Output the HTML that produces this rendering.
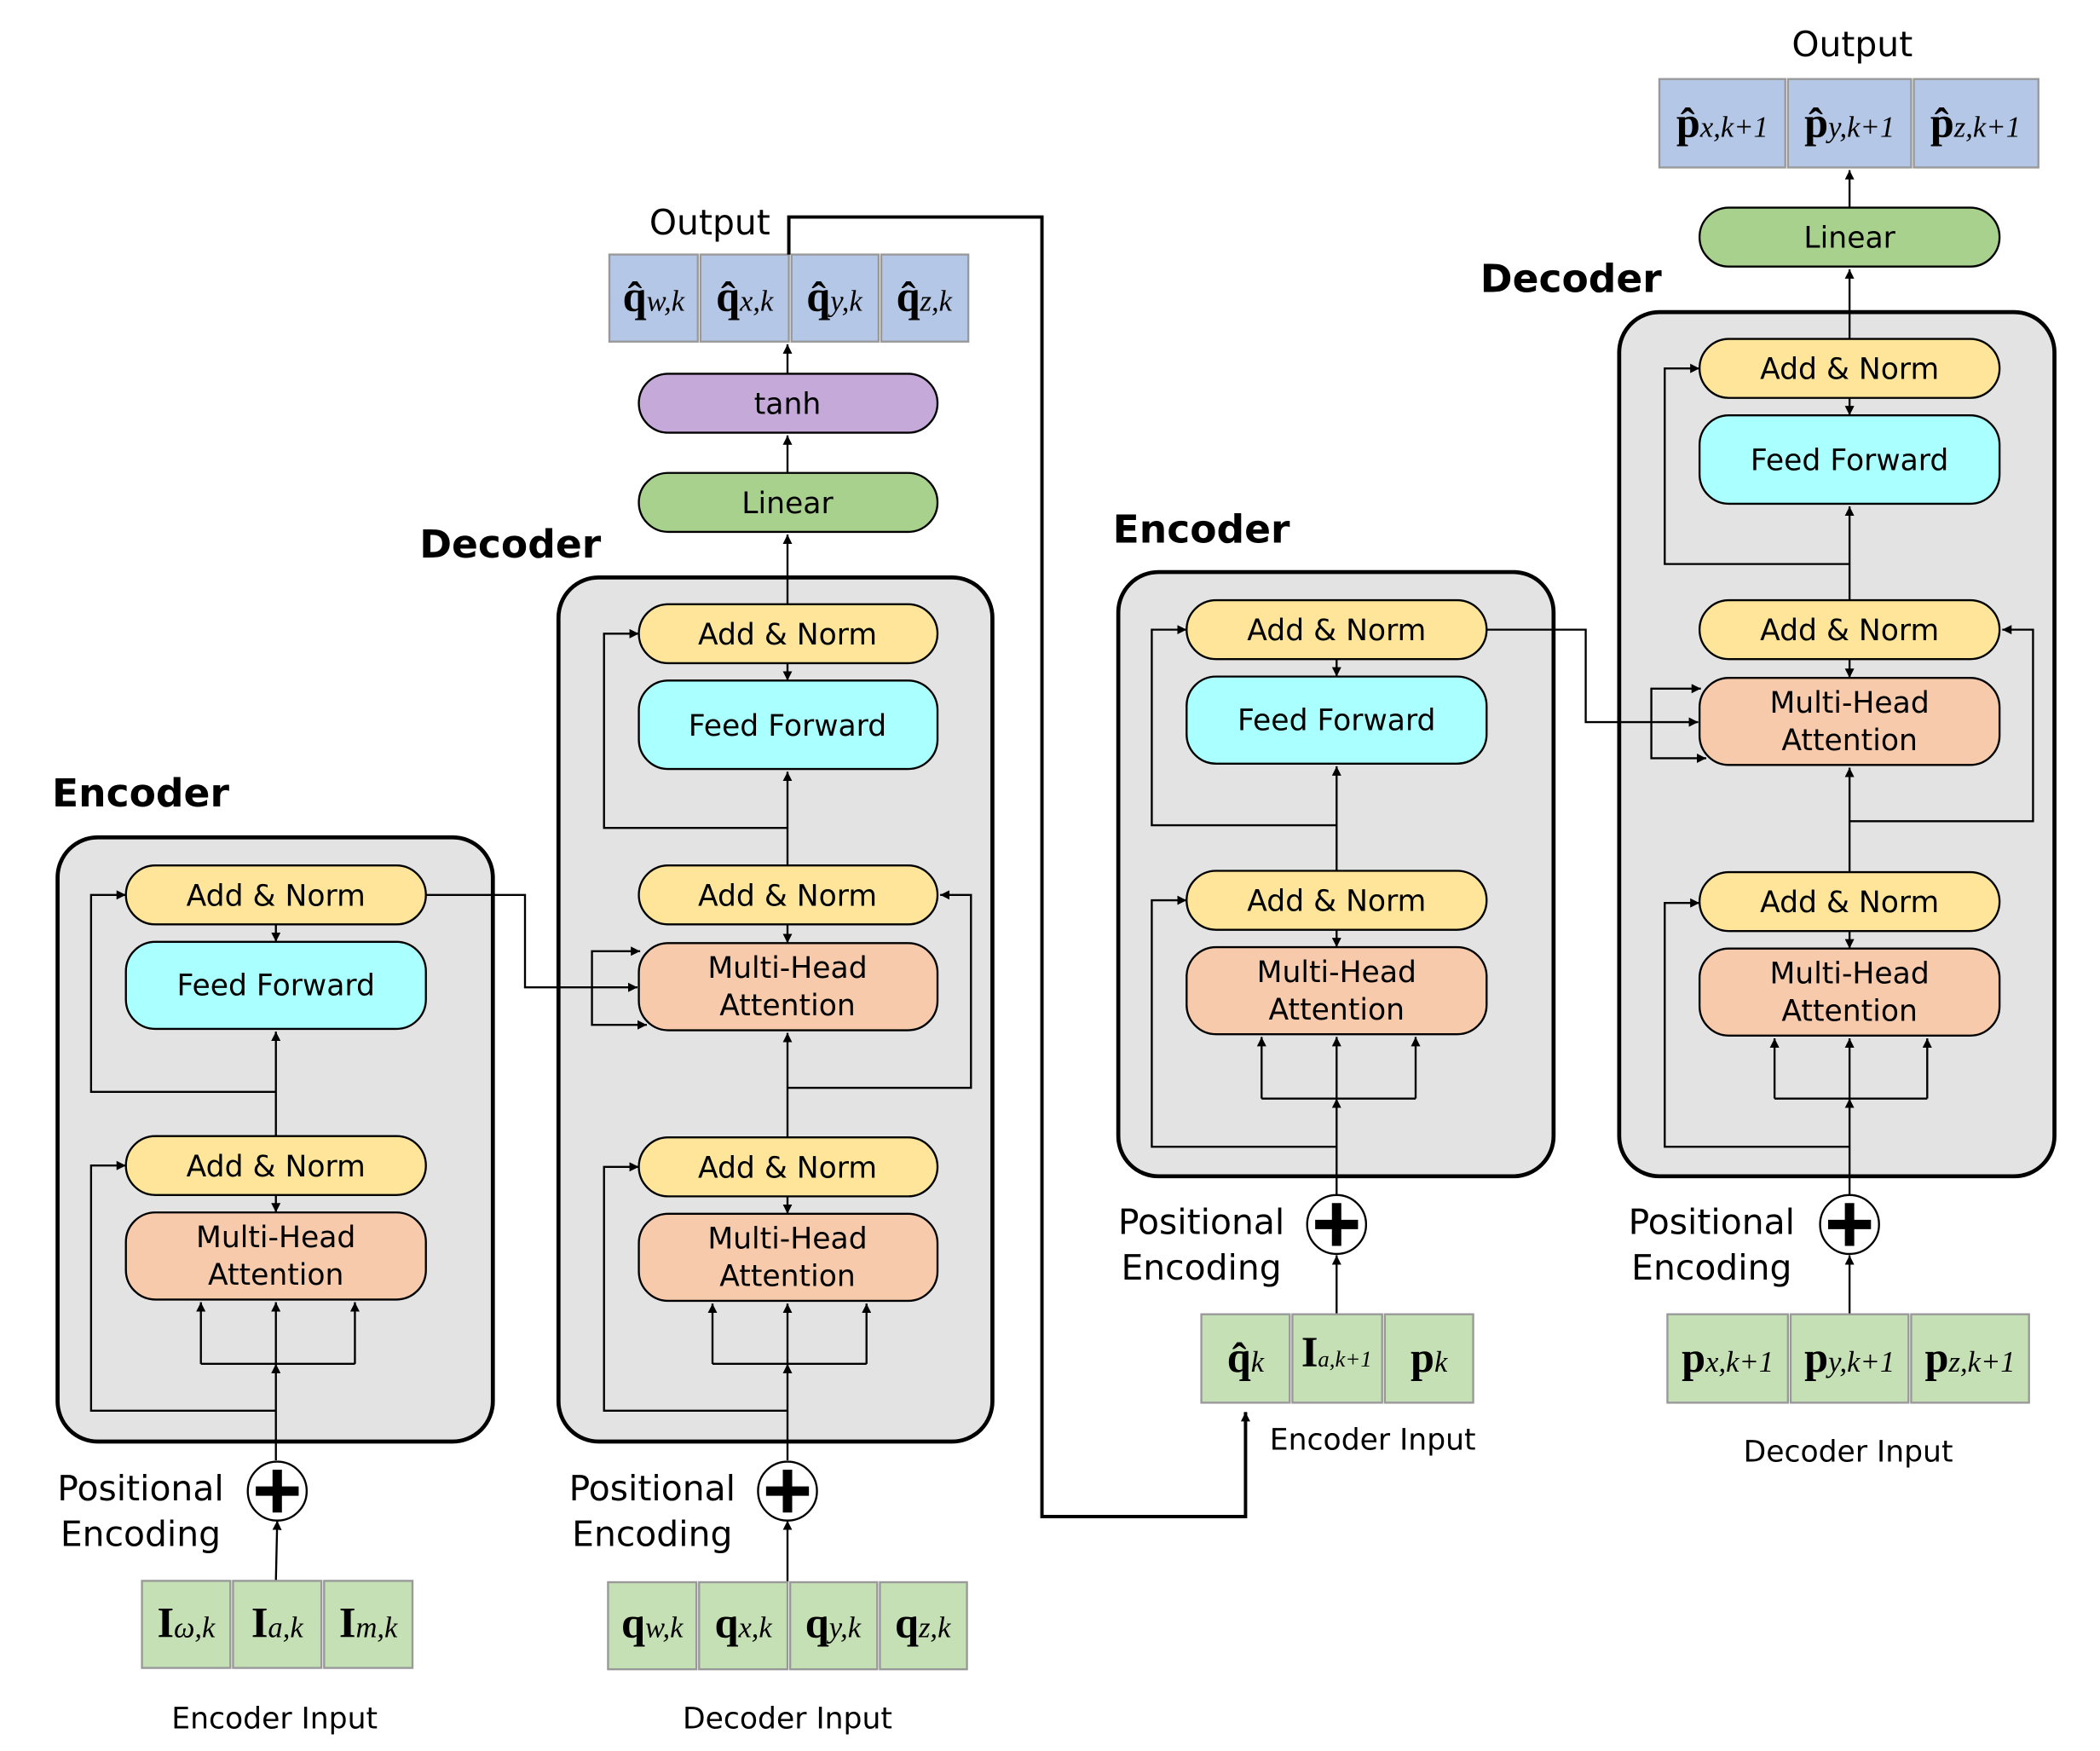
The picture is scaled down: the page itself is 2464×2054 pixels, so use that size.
<!DOCTYPE html>
<html><head><meta charset="utf-8"><style>
html,body{margin:0;padding:0;background:#fff}
svg{display:block}
.t{font-family:"DejaVu Sans","Liberation Sans",sans-serif;font-size:22px;text-anchor:middle}
.big{font-family:"DejaVu Sans","Liberation Sans",sans-serif;font-size:26px;text-anchor:middle}
.title{font-family:"DejaVu Sans","Liberation Sans",sans-serif;font-size:29px;font-weight:bold;text-anchor:middle}
.m{font-family:"Liberation Serif",serif;font-size:32px;font-weight:bold;text-anchor:middle}
.s{font-size:22px;font-style:italic;font-weight:normal}
.an{fill:#fee59a;stroke:#000;stroke-width:1.5}
.ff{fill:#aaffff;stroke:#000;stroke-width:1.5}
.mh{fill:#f7caab;stroke:#000;stroke-width:1.5}
.box{fill:#e3e3e3;stroke:#000;stroke-width:3}
.gi{fill:#c5e0b4;stroke:#999;stroke-width:1.5}
.bo{fill:#b4c7e7;stroke:#999;stroke-width:1.5}
.l{fill:none;stroke:#000;stroke-width:1.5}
</style></head><body>
<svg width="2464" height="2054" viewBox="0 0 1568 1307" preserveAspectRatio="none" xmlns="http://www.w3.org/2000/svg">
<defs><marker id="a" viewBox="0 0 10 10" refX="10" refY="5" markerWidth="7" markerHeight="7" orient="auto-start-reverse" markerUnits="userSpaceOnUse"><path d="M0,0L10,5L0,10z" fill="#000"/></marker></defs>

<!-- ENCODER 1 -->
<text class="title" x="105" y="602">Encoder</text>
<rect class="box" x="43" y="625" width="325" height="451" rx="30"/>
<rect class="an" x="94" y="646" width="224" height="44" rx="22"/><text class="t" x="206" y="676">Add &amp; Norm</text>
<rect class="ff" x="94" y="703" width="224" height="65" rx="22"/><text class="t" x="206" y="743">Feed Forward</text>
<rect class="an" x="94" y="848" width="224" height="44" rx="22"/><text class="t" x="206" y="878">Add &amp; Norm</text>
<rect class="mh" x="94" y="905" width="224" height="65" rx="22"/><text class="t" x="206" y="931">Multi-Head</text><text class="t" x="206" y="959">Attention</text>
<path class="l" d="M206,690V703" marker-end="url(#a)"/>
<path class="l" d="M206,892V905" marker-end="url(#a)"/>
<path class="l" d="M206,848V770" marker-end="url(#a)"/>
<path class="l" d="M206,815H68V668H94" marker-end="url(#a)"/>
<path class="l" d="M206,1053H68V870H94" marker-end="url(#a)"/>
<path class="l" d="M150,1018H265"/>
<path class="l" d="M150,1018V972" marker-end="url(#a)"/>
<path class="l" d="M206,1018V972" marker-end="url(#a)"/>
<path class="l" d="M265,1018V972" marker-end="url(#a)"/>
<path class="l" d="M206,1090V1018" marker-end="url(#a)"/>
<circle cx="207" cy="1113" r="22" fill="#fff" stroke="#000" stroke-width="1.5"/>
<path d="M207,1097V1129M191,1113H223" stroke="#000" stroke-width="7"/>
<path class="l" d="M206,1180L207,1135" marker-end="url(#a)"/>
<text class="big" x="105" y="1120">Positional</text><text class="big" x="105" y="1154">Encoding</text>
<rect class="gi" x="106" y="1180" width="66" height="65"/><rect class="gi" x="174" y="1180" width="66" height="65"/><rect class="gi" x="242" y="1180" width="66" height="65"/>
<text class="m" x="139" y="1222">I<tspan class="s">ω,k</tspan></text>
<text class="m" x="207" y="1222">I<tspan class="s">a,k</tspan></text>
<text class="m" x="275" y="1222">I<tspan class="s">m,k</tspan></text>
<text class="t" x="205" y="1290">Encoder Input</text>

<!-- DECODER 1 -->
<text class="title" x="381" y="416">Decoder</text>
<rect class="box" x="417" y="431" width="324" height="645" rx="30"/>
<path class="l" d="M318,668H392V737H476" marker-end="url(#a)"/>
<rect class="an" x="477" y="451" width="223" height="44" rx="22"/><text class="t" x="588" y="481">Add &amp; Norm</text>
<rect class="ff" x="477" y="508" width="223" height="66" rx="22"/><text class="t" x="588" y="549">Feed Forward</text>
<rect class="an" x="477" y="646" width="223" height="44" rx="22"/><text class="t" x="588" y="676">Add &amp; Norm</text>
<rect class="mh" x="477" y="704" width="223" height="65" rx="22"/><text class="t" x="588" y="730">Multi-Head</text><text class="t" x="588" y="758">Attention</text>
<rect class="an" x="477" y="849" width="223" height="44" rx="22"/><text class="t" x="588" y="879">Add &amp; Norm</text>
<rect class="mh" x="477" y="906" width="223" height="65" rx="22"/><text class="t" x="588" y="932">Multi-Head</text><text class="t" x="588" y="960">Attention</text>
<path class="l" d="M588,495V508" marker-end="url(#a)"/>
<path class="l" d="M588,690V704" marker-end="url(#a)"/>
<path class="l" d="M588,893V906" marker-end="url(#a)"/>
<path class="l" d="M588,646V576" marker-end="url(#a)"/>
<path class="l" d="M588,618H451V473H477" marker-end="url(#a)"/>
<path class="l" d="M588,849V771" marker-end="url(#a)"/>
<path class="l" d="M588,812H725V668H702" marker-end="url(#a)"/>
<path class="l" d="M442,737V710H478" marker-end="url(#a)"/>
<path class="l" d="M442,737V765H483" marker-end="url(#a)"/>
<path class="l" d="M532,1018H647"/>
<path class="l" d="M532,1018V973" marker-end="url(#a)"/>
<path class="l" d="M588,1018V973" marker-end="url(#a)"/>
<path class="l" d="M647,1018V973" marker-end="url(#a)"/>
<path class="l" d="M588,1090V1018" marker-end="url(#a)"/>
<path class="l" d="M588,1053H451V871H477" marker-end="url(#a)"/>
<circle cx="588" cy="1113" r="22" fill="#fff" stroke="#000" stroke-width="1.5"/>
<path d="M588,1097V1129M572,1113H604" stroke="#000" stroke-width="7"/>
<path class="l" d="M588,1181V1135" marker-end="url(#a)"/>
<text class="big" x="487" y="1120">Positional</text><text class="big" x="487" y="1154">Encoding</text>
<rect class="gi" x="454" y="1181" width="66" height="65"/><rect class="gi" x="522" y="1181" width="66" height="65"/><rect class="gi" x="590" y="1181" width="65" height="65"/><rect class="gi" x="657" y="1181" width="65" height="65"/>
<text class="m" x="487" y="1222">q<tspan class="s">w,k</tspan></text>
<text class="m" x="555" y="1222">q<tspan class="s">x,k</tspan></text>
<text class="m" x="622" y="1222">q<tspan class="s">y,k</tspan></text>
<text class="m" x="689" y="1222">q<tspan class="s">z,k</tspan></text>
<text class="t" x="588" y="1290">Decoder Input</text>
<rect x="477" y="353" width="223" height="44" rx="22" fill="#a9d18e" stroke="#000" stroke-width="1.5"/><text class="t" x="588" y="383">Linear</text>
<rect x="477" y="279" width="223" height="44" rx="22" fill="#c5a9d9" stroke="#000" stroke-width="1.5"/><text class="t" x="588" y="309">tanh</text>
<path class="l" d="M588,451V399" marker-end="url(#a)"/>
<path class="l" d="M588,353V325" marker-end="url(#a)"/>
<path class="l" d="M588,279V257" marker-end="url(#a)"/>
<rect class="bo" x="455" y="190" width="66" height="65"/><rect class="bo" x="523" y="190" width="66" height="65"/><rect class="bo" x="591" y="190" width="65" height="65"/><rect class="bo" x="658" y="190" width="65" height="65"/>
<text class="m" x="488" y="232">q̂<tspan class="s">w,k</tspan></text>
<text class="m" x="556" y="232">q̂<tspan class="s">x,k</tspan></text>
<text class="m" x="623" y="232">q̂<tspan class="s">y,k</tspan></text>
<text class="m" x="690" y="232">q̂<tspan class="s">z,k</tspan></text>
<text class="big" x="530" y="175">Output</text>
<path d="M589,190V162H778V1132H930V1054" fill="none" stroke="#000" stroke-width="2.5" marker-end="url(#a)"/>

<!-- ENCODER 2 -->
<text class="title" x="897" y="405">Encoder</text>
<rect class="box" x="835" y="427" width="325" height="451" rx="30"/>
<rect class="an" x="886" y="448" width="224" height="44" rx="22"/><text class="t" x="998" y="478">Add &amp; Norm</text>
<rect class="ff" x="886" y="505" width="224" height="65" rx="22"/><text class="t" x="998" y="545">Feed Forward</text>
<rect class="an" x="886" y="650" width="224" height="44" rx="22"/><text class="t" x="998" y="680">Add &amp; Norm</text>
<rect class="mh" x="886" y="707" width="224" height="65" rx="22"/><text class="t" x="998" y="733">Multi-Head</text><text class="t" x="998" y="761">Attention</text>
<path class="l" d="M998,492V505" marker-end="url(#a)"/>
<path class="l" d="M998,694V707" marker-end="url(#a)"/>
<path class="l" d="M998,650V572" marker-end="url(#a)"/>
<path class="l" d="M998,616H860V470H886" marker-end="url(#a)"/>
<path class="l" d="M998,856H860V672H886" marker-end="url(#a)"/>
<path class="l" d="M942,820H1057"/>
<path class="l" d="M942,820V774" marker-end="url(#a)"/>
<path class="l" d="M998,820V774" marker-end="url(#a)"/>
<path class="l" d="M1057,820V774" marker-end="url(#a)"/>
<path class="l" d="M998,892V820" marker-end="url(#a)"/>
<circle cx="998" cy="914" r="22" fill="#fff" stroke="#000" stroke-width="1.5"/>
<path d="M998,898V930M982,914H1014" stroke="#000" stroke-width="7"/>
<path class="l" d="M998,981V937" marker-end="url(#a)"/>
<text class="big" x="897" y="921">Positional</text><text class="big" x="897" y="955">Encoding</text>
<rect class="gi" x="897" y="981" width="66" height="66"/><rect class="gi" x="965" y="981" width="67" height="66"/><rect class="gi" x="1034" y="981" width="66" height="66"/>
<text class="m" x="930" y="1024">q̂<tspan class="s">k</tspan></text>
<text class="m" x="998" y="1020">I<tspan class="s" style="font-size:17px">a,k+1</tspan></text>
<text class="m" x="1067" y="1024">p<tspan class="s">k</tspan></text>
<text class="t" x="1025" y="1082">Encoder Input</text>

<!-- DECODER 2 -->
<text class="title" x="1173" y="218">Decoder</text>
<rect class="box" x="1209" y="233" width="325" height="645" rx="30"/>
<path class="l" d="M1110,470H1184V539H1268" marker-end="url(#a)"/>
<rect class="an" x="1269" y="253" width="224" height="44" rx="22"/><text class="t" x="1381" y="283">Add &amp; Norm</text>
<rect class="ff" x="1269" y="310" width="224" height="66" rx="22"/><text class="t" x="1381" y="351">Feed Forward</text>
<rect class="an" x="1269" y="448" width="224" height="44" rx="22"/><text class="t" x="1381" y="478">Add &amp; Norm</text>
<rect class="mh" x="1269" y="506" width="224" height="65" rx="22"/><text class="t" x="1381" y="532">Multi-Head</text><text class="t" x="1381" y="560">Attention</text>
<rect class="an" x="1269" y="651" width="224" height="44" rx="22"/><text class="t" x="1381" y="681">Add &amp; Norm</text>
<rect class="mh" x="1269" y="708" width="224" height="65" rx="22"/><text class="t" x="1381" y="734">Multi-Head</text><text class="t" x="1381" y="762">Attention</text>
<path class="l" d="M1381,297V310" marker-end="url(#a)"/>
<path class="l" d="M1381,492V506" marker-end="url(#a)"/>
<path class="l" d="M1381,695V708" marker-end="url(#a)"/>
<path class="l" d="M1381,448V378" marker-end="url(#a)"/>
<path class="l" d="M1381,421H1243V275H1269" marker-end="url(#a)"/>
<path class="l" d="M1381,651V573" marker-end="url(#a)"/>
<path class="l" d="M1381,613H1518V470H1495" marker-end="url(#a)"/>
<path class="l" d="M1233,539V514H1270" marker-end="url(#a)"/>
<path class="l" d="M1233,539V566H1274" marker-end="url(#a)"/>
<path class="l" d="M1325,820H1439"/>
<path class="l" d="M1325,820V775" marker-end="url(#a)"/>
<path class="l" d="M1381,820V775" marker-end="url(#a)"/>
<path class="l" d="M1439,820V775" marker-end="url(#a)"/>
<path class="l" d="M1381,892V820" marker-end="url(#a)"/>
<path class="l" d="M1381,856H1243V674H1269" marker-end="url(#a)"/>
<circle cx="1381" cy="914" r="22" fill="#fff" stroke="#000" stroke-width="1.5"/>
<path d="M1381,898V930M1365,914H1397" stroke="#000" stroke-width="7"/>
<path class="l" d="M1381,981V937" marker-end="url(#a)"/>
<text class="big" x="1278" y="921">Positional</text><text class="big" x="1278" y="955">Encoding</text>
<rect class="gi" x="1245" y="981" width="90" height="66"/><rect class="gi" x="1337" y="981" width="88" height="66"/><rect class="gi" x="1427" y="981" width="88" height="66"/>
<text class="m" x="1290" y="1024">p<tspan class="s">x,k+1</tspan></text>
<text class="m" x="1381" y="1024">p<tspan class="s">y,k+1</tspan></text>
<text class="m" x="1471" y="1024">p<tspan class="s">z,k+1</tspan></text>
<text class="t" x="1380" y="1091">Decoder Input</text>
<rect x="1269" y="155" width="224" height="44" rx="22" fill="#a9d18e" stroke="#000" stroke-width="1.5"/><text class="t" x="1381" y="185">Linear</text>
<path class="l" d="M1381,253V201" marker-end="url(#a)"/>
<path class="l" d="M1381,155V127" marker-end="url(#a)"/>
<rect class="bo" x="1239" y="59" width="94" height="66"/><rect class="bo" x="1335" y="59" width="92" height="66"/><rect class="bo" x="1429" y="59" width="93" height="66"/>
<text class="m" x="1286" y="102">p̂<tspan class="s">x,k+1</tspan></text>
<text class="m" x="1381" y="102">p̂<tspan class="s">y,k+1</tspan></text>
<text class="m" x="1475" y="102">p̂<tspan class="s">z,k+1</tspan></text>
<text class="big" x="1383" y="42">Output</text>
</svg>
</body></html>
